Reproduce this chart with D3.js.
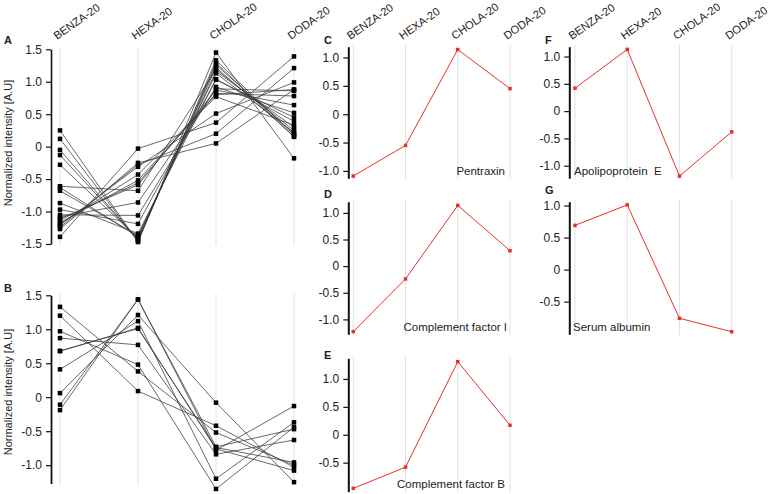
<!DOCTYPE html>
<html><head><meta charset="utf-8">
<script src="https://cdn.jsdelivr.net/npm/d3@7"></script>
<style>
body{margin:0;background:#fff;}
svg text{font-family:"Liberation Sans",Arial,sans-serif;fill:#222;}
</style></head>
<body><svg id="c" width="772" height="494"></svg>
<script>
const categories = ["BENZA-20","HEXA-20","CHOLA-20","DODA-20"];

// Cluster A profiles: [BENZA, HEXA, CHOLA, DODA]
const clusterA = [
  [0.25,-1.47,1.45,-0.18],
  [0.12,-1.46,1.33,0.18],
  [-0.05,-1.44,1.29,0.15],
  [-0.13,-1.43,1.26,0.20],
  [-0.28,-1.41,1.22,0.16],
  [-0.61,-0.68,1.19,0.25],
  [-0.63,-1.39,1.16,0.30],
  [-0.68,-1.37,1.13,0.22],
  [-0.87,-1.34,1.04,0.39],
  [-0.97,-1.19,1.03,0.45],
  [-1.05,-1.06,0.92,0.52],
  [-1.08,-0.86,0.89,0.86],
  [-1.11,-0.59,0.87,0.64],
  [-1.13,-0.56,0.82,0.78],
  [-1.17,-0.52,0.80,0.88],
  [-1.19,-0.43,0.77,0.33],
  [-1.21,-0.31,0.51,0.99],
  [-1.24,-0.28,0.20,1.21],
  [-1.27,-0.25,0.05,0.88],
  [-1.39,-0.03,0.37,1.39]
];
// Cluster B profiles
const clusterB = [
  [1.33,0.38,-0.52,-1.00],
  [1.20,0.09,-0.42,-1.03],
  [0.97,0.48,-1.35,-0.44],
  [0.87,0.77,-0.84,-0.63],
  [0.68,1.01,-0.74,-0.96],
  [0.68,1.02,-0.76,-1.08],
  [0.41,1.12,-1.20,-0.37],
  [0.06,1.21,-0.08,-1.25],
  [-0.11,1.44,-0.73,-0.47],
  [-0.19,1.44,-0.78,-0.13]
];
// Single protein profiles
const pentraxin = [-1.09,-0.55,1.14,0.45];
const complementFactorI = [-1.23,-0.24,1.14,0.29];
const complementFactorB = [-0.96,-0.58,1.31,0.17];
const apolipoproteinE = [0.42,1.13,-1.19,-0.38];
const serumAlbumin = [0.69,1.01,-0.76,-0.97];

const ticksA = [-1.5,-1.0,-0.5,0,0.5,1.0,1.5];
const ticksB = [-1.0,-0.5,0,0.5,1.0,1.5];
const ticksSmall = [-1.0,-0.5,0,0.5,1.0];
const ticksShort = [-0.5,0,0.5,1.0];
const yTitle = "Normalized intensity [A.U]";

const svg = d3.select("#c");
const fmt = d => d === 0 ? "0" : d.toFixed(1);

function panel(o){
  const g = svg.append("g");
  const x = d3.scalePoint().domain(categories).range(o.xr).padding(0);
  const y = d3.scaleLinear().domain(o.yd).range(o.yr);
  g.selectAll("line.grid").data(categories).join("line")
    .attr("x1",d=>x(d)).attr("x2",d=>x(d))
    .attr("y1",o.yr[1]-2).attr("y2",o.yr[0]+1)
    .attr("stroke","#e3e3e3").attr("stroke-width",1);
  const ax = g.append("g").attr("transform",`translate(${o.ax},0)`)
    .call(d3.axisLeft(y).tickValues(o.ticks).tickFormat(fmt).tickSize(5).tickSizeOuter(0).tickPadding(4));
  ax.select(".domain").attr("stroke","#111").attr("stroke-width",o.aw);
  ax.selectAll(".tick line").attr("stroke","#111").attr("stroke-width",1.2);
  ax.selectAll(".tick text").attr("font-size",12).attr("fill","#222")
    .attr("font-family","Liberation Sans, Arial, sans-serif");
  const line = d3.line().x((d,i)=>x(categories[i])).y(d=>y(d));
  g.selectAll("path.l").data(o.data).join("path")
    .attr("d",line).attr("fill","none")
    .attr("stroke",o.color).attr("stroke-width",o.lw).attr("stroke-opacity",o.op);
  const pts = o.data.flatMap(r=>r.map((v,i)=>({c:categories[i],v})));
  g.selectAll("rect.m").data(pts).join("rect")
    .attr("x",d=>x(d.c)-o.ms/2).attr("y",d=>y(d.v)-o.ms/2)
    .attr("width",o.ms).attr("height",o.ms).attr("fill",o.mc);
  if(o.cats){
    g.selectAll("text.cat").data(categories).join("text")
      .attr("transform",d=>`translate(${x(d)-3},${o.cy}) rotate(-35)`)
      .attr("font-size",11.2).text(d=>d);
  }
  g.append("text").attr("x",o.lx).attr("y",o.ly).attr("font-size",11)
    .attr("font-weight","bold").text(o.letter);
  if(o.title){
    g.append("text").attr("transform",`translate(${o.tx},${o.ty}) rotate(-90)`)
      .attr("text-anchor","middle").attr("font-size",11).text(yTitle);
  }
  if(o.name){
    g.append("text").attr("x",o.nx).attr("y",o.ny).attr("font-size",11.5)
      .attr("text-anchor",o.na).style("white-space","pre").text(o.name);
  }
}

const gray = "#3a3a3a";
const red = "#e8302c";
panel({data:clusterA, xr:[60,294], ax:51, yd:[-1.5,1.5], yr:[244,49.3], ticks:ticksA,
  color:gray, lw:0.9, op:0.85, ms:4.5, mc:"#000", aw:1.6, cats:true, cy:40,
  letter:"A", lx:4, ly:44, title:true, tx:12, ty:143});
panel({data:clusterB, xr:[60,294], ax:51, yd:[-1.27,1.5], yr:[483.5,295.3], ticks:ticksB,
  color:gray, lw:0.9, op:0.85, ms:4.5, mc:"#000", aw:1.8, cats:false,
  letter:"B", lx:4, ly:292, title:true, tx:12, ty:392});
panel({data:[pentraxin], xr:[353.3,510], ax:348.3, yd:[-1.13,1.19], yr:[178.3,46.7], ticks:ticksSmall,
  color:red, lw:1, op:1, ms:3.5, mc:red, aw:2, cats:true, cy:40,
  letter:"C", lx:324, ly:44, name:"Pentraxin", nx:505, ny:175, na:"end"});
panel({data:[complementFactorI], xr:[353.3,510], ax:348.3, yd:[-1.28,1.21], yr:[334.3,201.7], ticks:ticksSmall,
  color:red, lw:1, op:1, ms:3.5, mc:red, aw:2, cats:false,
  letter:"D", lx:324, ly:198, name:"Complement factor I", nx:507, ny:331, na:"end"});
panel({data:[complementFactorB], xr:[353.3,510], ax:348.3, yd:[-1.02,1.37], yr:[491.7,358.3], ticks:ticksShort,
  color:red, lw:1, op:1, ms:3.5, mc:red, aw:2, cats:false,
  letter:"E", lx:324, ly:359, name:"Complement factor B", nx:505, ny:488, na:"end"});
panel({data:[apolipoproteinE], xr:[575,731.7], ax:569.3, yd:[-1.23,1.18], yr:[178.3,46.7], ticks:ticksSmall,
  color:red, lw:1, op:1, ms:3.5, mc:red, aw:2, cats:true, cy:40,
  letter:"F", lx:545, ly:44, name:"Apolipoprotein  E", nx:574, ny:175, na:"start"});
panel({data:[serumAlbumin], xr:[575,731.7], ax:569.3, yd:[-1.01,1.06], yr:[334.3,201.7], ticks:ticksShort,
  color:red, lw:1, op:1, ms:3.5, mc:red, aw:2, cats:false,
  letter:"G", lx:545, ly:194, name:"Serum albumin", nx:573, ny:331, na:"start"});
</script></body></html>
